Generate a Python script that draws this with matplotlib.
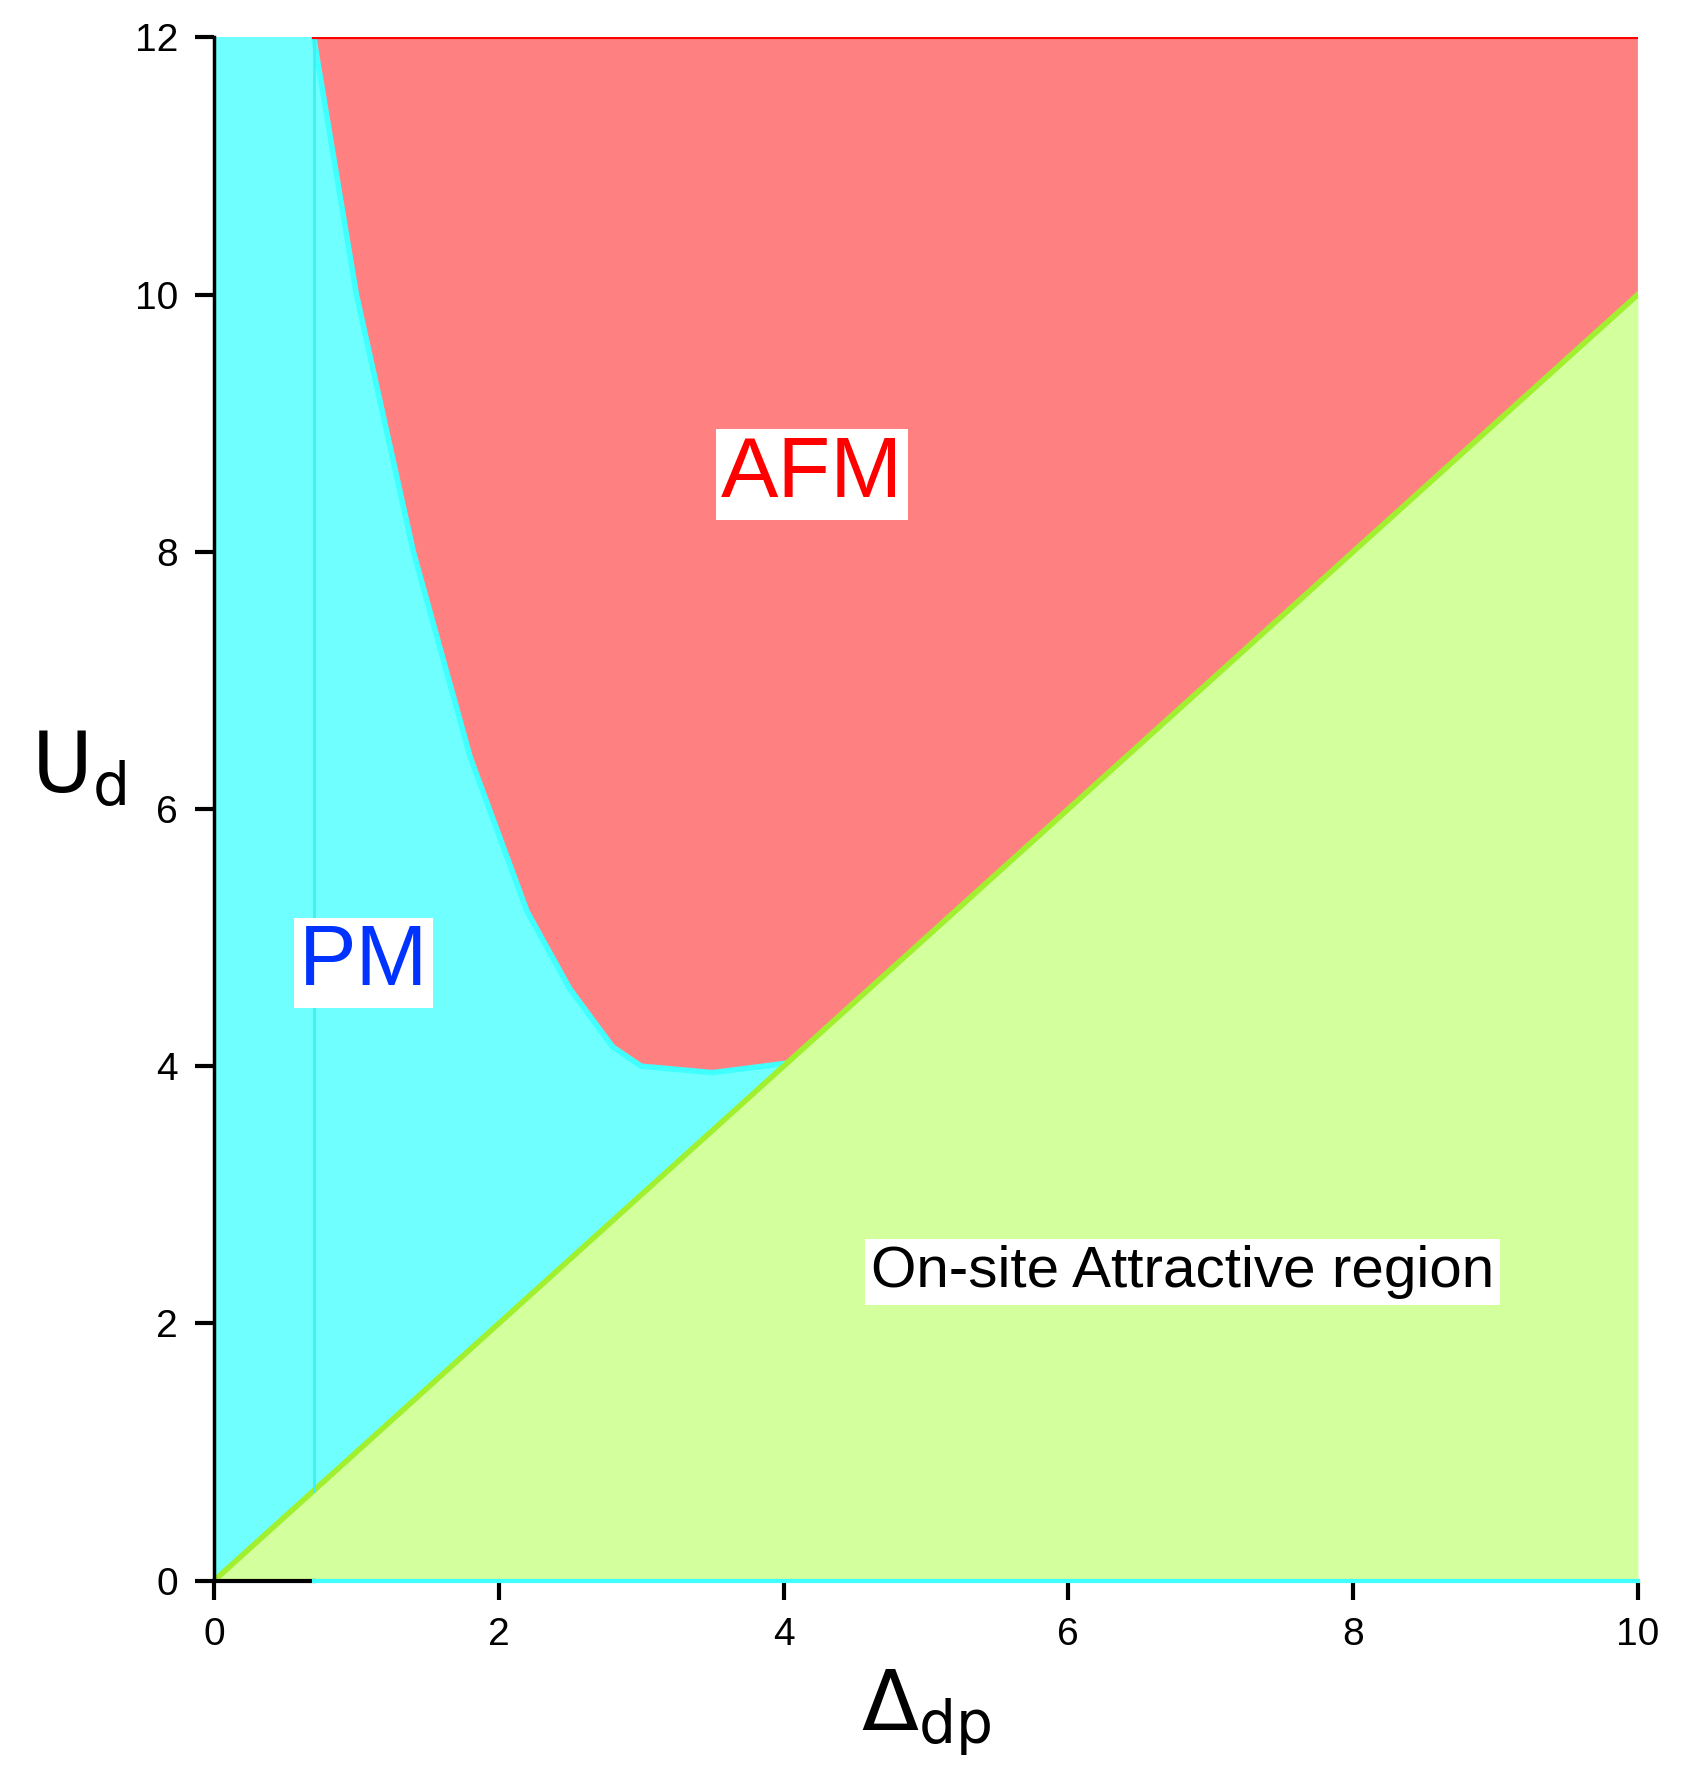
import numpy as np
import matplotlib.pyplot as plt

# phase boundaries
afm_x = [0.7, 1.0, 1.4, 1.8, 2.2, 2.5, 2.8, 3.0, 3.5, 4.0]
afm_y = [12.0, 10.0, 8.0, 6.4, 5.2, 4.6, 4.15, 4.0, 3.95, 4.02]
diag_x = [0, 10]
diag_y = [0, 10]
x_pm_edge = 0.7

fig = plt.figure(figsize=(16.92, 17.78), dpi=100)
ax = fig.add_axes([0.1265, 0.111, 0.8415, 0.868])

cyan = '#70ffff'
red = '#ff8080'
green = '#d3ff9c'

# PM background
ax.fill_between([0, 10], 0, 12, color=cyan, lw=0)
# AFM region: between curve, top, and diagonal
poly_x = afm_x + [10, 10]
poly_y = afm_y + [10, 12]
ax.fill(poly_x, poly_y, color=red, lw=0)
ax.plot(afm_x, afm_y, color='#40ffff', lw=4)
# attractive region
ax.fill_between(diag_x, 0, diag_y, color=green, lw=0)
ax.plot(diag_x, diag_y, color='#a0f030', lw=4)
ax.plot([x_pm_edge, x_pm_edge], [x_pm_edge, 12], color='#40f0f0', lw=2)
ax.plot([x_pm_edge, 10], [12, 12], color='red', lw=3)
ax.plot([0, x_pm_edge], [0, 0], color='black', lw=3, clip_on=False)
ax.plot([x_pm_edge, 10], [0, 0], color='#40ffff', lw=3, clip_on=False)

ax.set_xlim(0, 10)
ax.set_ylim(0, 12)
for s in ['top', 'right', 'bottom']:
    ax.spines[s].set_visible(False)
ax.spines['left'].set_linewidth(2.5)
ax.set_xticks([0, 2, 4, 6, 8, 10])
ax.set_yticks([0, 2, 4, 6, 8, 10, 12])
ax.tick_params(labelsize=28, width=3, length=14, direction='out', pad=12)
for lab in ax.get_xticklabels() + ax.get_yticklabels():
    lab.set_family('Liberation Sans')

ax.set_xlabel(r'$\Delta_{\rm dp}$', fontsize=60, labelpad=10)
ax.set_ylabel(r'$\rm U_d$', fontsize=60, rotation=0, labelpad=40)
plt.rcParams['mathtext.fontset'] = 'stix'
ax.xaxis.label.set_family('Liberation Serif')

box = dict(facecolor='white', edgecolor='none', pad=4)
ax.text(4.2, 8.6, 'AFM', color='red', fontsize=62, ha='center', va='center',
        family='Liberation Sans', bbox=box)
ax.text(1.05, 4.8, 'PM', color='#0033ff', fontsize=62, ha='center', va='center',
        family='Liberation Sans', bbox=box)
ax.text(6.8, 2.4, 'On-site Attractive region', color='black', fontsize=42,
        ha='center', va='center', family='Liberation Sans', bbox=box)

fig.savefig('out.png', dpi=100)
